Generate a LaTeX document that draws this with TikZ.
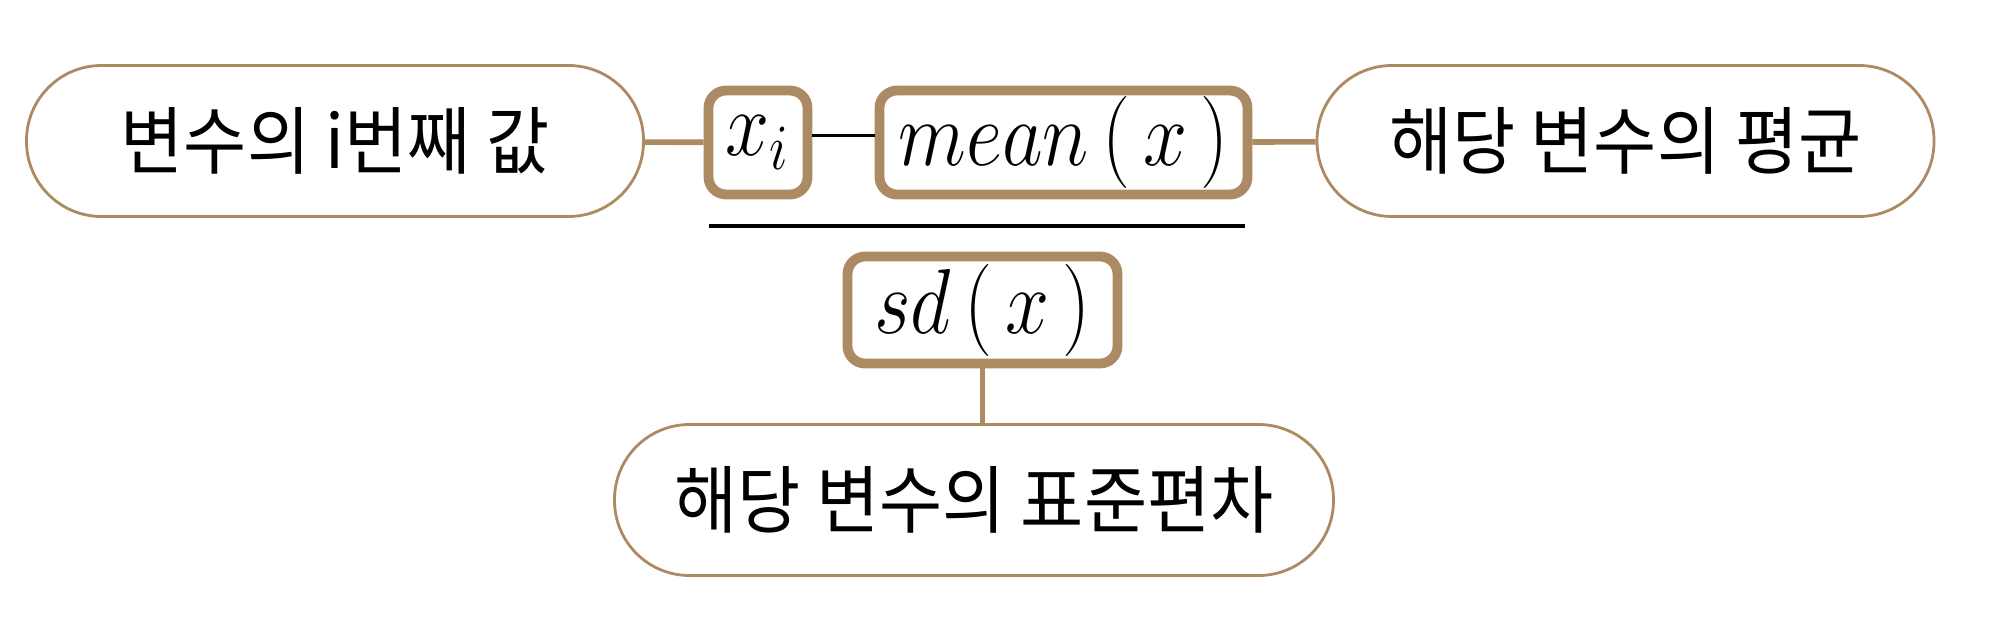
\documentclass[tikz,border=0pt]{standalone}
\usepackage{fix-cm}
\usepackage{fontspec}
\usepackage{graphicx}
\usetikzlibrary{positioning}
\newfontfamily\krfont[FakeStretch=0.93]{Noto Sans CJK KR}
\definecolor{tanbrown}{RGB}{172,138,99}
\newcommand{\narrowmath}[1]{\raisebox{1.5pt}{\scalebox{0.9}[1.05]{$#1$}}}

\begin{document}
\begin{tikzpicture}[
    pill/.style={draw=tanbrown, line width=0.8pt, rounded corners=0.75cm, minimum width=6.17cm, minimum height=1.51cm, inner sep=0pt, font=\krfont\fontsize{21}{25}\selectfont},
    termbox/.style={draw=tanbrown, line width=2.8pt, rounded corners=5pt, minimum height=1.04cm, inner sep=0pt, font=\fontsize{25}{30}\selectfont},
    link/.style={tanbrown, line width=1.6pt},
    thinlink/.style={black, line width=0.7pt}
]
    \useasboundingbox (0,0) rectangle (20.03,6.17);

    % Terms of the formula
    \node[termbox, minimum width=0.99cm] (xi) at (7.58,4.745) {\narrowmath{x_i}};
    \node[termbox, minimum width=3.68cm] (mean) at (10.635,4.745) {\narrowmath{mean\,(\,x\,)}};
    \node[termbox, minimum width=2.70cm, minimum height=1.07cm] (sd) at (9.825,3.07) {\narrowmath{sd\,(\,x\,)}};
    \draw[thinlink] ([yshift=2pt]xi.east) -- ([yshift=2pt]mean.west);
    \draw[black, line width=0.9pt] (7.09,3.91) -- (12.45,3.91);

    % Explanations
    \node[pill] (value) at (3.35,4.76) {변수의 i번째 값};
    \node[pill] (avg) at (16.255,4.76) {해당 변수의 평균};
    \node[pill, minimum width=7.19cm] (dev) at (9.74,1.17) {해당 변수의 표준편차};

    \draw[link] (value) -- (xi);
    \draw[link] (mean) -- (avg);
    \draw[link] (sd.south) -- (sd.south |- dev.north);
\end{tikzpicture}
\end{document}
